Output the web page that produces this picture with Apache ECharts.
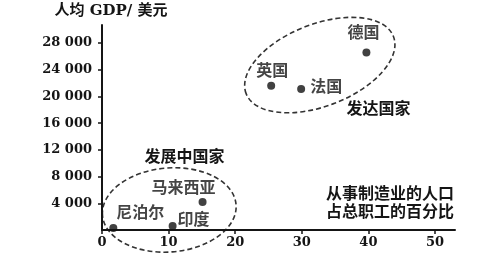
<!DOCTYPE html>
<html><head><meta charset="utf-8">
<script src="https://cdn.jsdelivr.net/npm/echarts@6/dist/echarts.min.js"></script>
<style>html,body{margin:0;padding:0;background:#fff}#c{width:480px;height:270px}</style>
</head><body><div id="c"></div>
<script>
// ---- data ----
const countries = ['德国', '英国', '法国', '马来西亚', '印度', '尼泊尔'];
const manufShare = [39.7, 25.4, 29.9, 15.1, 10.6, 1.7];   // 从事制造业的人口占总职工的百分比
const gdpPerCapita = [26600, 21600, 21100, 4200, 600, 300]; // 人均 GDP/ 美元
const xTicks = [0, 10, 20, 30, 40, 50];
const yTicks = [4000, 8000, 12000, 16000, 20000, 24000, 28000];
const groupNames = ['发达国家', '发展中国家'];
const groupLabelPos = [[41.5, 18000], [12.4, 10800]];
const groupCenters = [[32.7, 24700], [10.1, 3000]];

// ---- style ----
const CJK = '"DejaVu Serif","Noto Sans CJK SC",serif';
const ink = '#151515';
const labelOffsets = {
  '德国': [-3, -19], '英国': [1, -14], '法国': [25, -1],
  '马来西亚': [-19, -13], '印度': [21, -5], '尼泊尔': [27, -14]
};
const ellipseShapes = [{rx: 79, ry: 41, rot: 0.37}, {rx: 67, ry: 42, rot: 0.08}];

const chart = echarts.init(document.getElementById('c'));
const fmt = v => { const s = String(v); return s.length > 3 ? s.slice(0, -3) + ' ' + s.slice(-3) : s; };

chart.setOption({
  animation: false,
  grid: {left: 102, right: 25, top: 25, bottom: 40},
  xAxis: {
    type: 'value', min: 0, max: 53,
    splitLine: {show: false},
    axisLine: {lineStyle: {color: ink, width: 2}},
    axisTick: {customValues: xTicks, length: 4, lineStyle: {color: ink, width: 1.5}},
    axisLabel: {customValues: xTicks, color: ink, fontFamily: 'DejaVu Serif', fontWeight: 'bold', fontSize: 13, margin: 6},
    name: '从事制造业的人口\n占总职工的百分比',
    nameLocation: 'end', nameGap: -1,
    nameTextStyle: {align: 'right', verticalAlign: 'bottom', color: ink, fontFamily: CJK, fontWeight: 'bold', fontSize: 16, lineHeight: 18, padding: [0, 0, 8, 0]}
  },
  yAxis: {
    type: 'value', min: 0, max: 30700,
    splitLine: {show: false},
    axisLine: {lineStyle: {color: ink, width: 2}},
    axisTick: {customValues: yTicks, length: 4, lineStyle: {color: ink, width: 1.5}},
    axisLabel: {customValues: yTicks, formatter: fmt, color: ink, fontFamily: 'DejaVu Serif', fontWeight: 'bold', fontSize: 13, margin: 10},
    name: '人均 GDP/ 美元',
    nameLocation: 'end', nameGap: 6,
    nameTextStyle: {align: 'center', color: ink, fontFamily: CJK, fontWeight: 'bold', fontSize: 15, padding: [0, 0, 0, 18]}
  },
  series: [{
    type: 'scatter',
    symbolSize: 8,
    itemStyle: {color: '#111'},
    data: countries.map((n, i) => ({
      name: n, value: [manufShare[i], gdpPerCapita[i]],
      label: {show: true, position: 'inside', offset: labelOffsets[n], formatter: '{b}',
        color: ink, fontFamily: CJK, fontWeight: 'bold', fontSize: 16}
    }))
  }]
});

const graphics = [];
groupCenters.forEach((c, i) => {
  const p = chart.convertToPixel({gridIndex: 0}, c);
  const e = ellipseShapes[i];
  graphics.push({type: 'ellipse', x: p[0], y: p[1], rotation: e.rot,
    shape: {cx: 0, cy: 0, rx: e.rx, ry: e.ry},
    style: {fill: 'none', stroke: '#333', lineWidth: 1.6, lineDash: [5, 3]}, silent: true});
});
groupNames.forEach((n, i) => {
  const p = chart.convertToPixel({gridIndex: 0}, groupLabelPos[i]);
  graphics.push({type: 'text', x: p[0], y: p[1],
    style: {text: n, fill: ink, font: 'bold 16px ' + CJK, align: 'center', verticalAlign: 'middle'}});
});
chart.setOption({graphic: graphics});
</script>
</body></html>
